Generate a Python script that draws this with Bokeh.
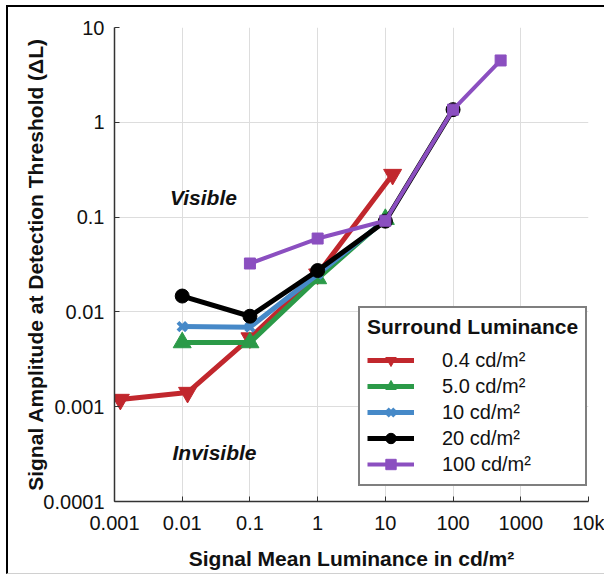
from bokeh.plotting import figure
from bokeh.models import FixedTicker, Label, Legend
from bokeh.embed import file_html
from bokeh.resources import INLINE

FONT = "Liberation Sans"

# Tick values and labels
x_ticks = [0.001, 0.01, 0.1, 1, 10, 100, 1000, 10000]
x_tick_labels = ["0.001", "0.01", "0.1", "1", "10", "100", "1000", "10k"]
y_ticks = [0.0001, 0.001, 0.01, 0.1, 1, 10]
y_tick_labels = ["0.0001", "0.001", "0.01", "0.1", "1", "10"]

# Series (signal mean luminance, threshold amplitude)
x_04 = [0.00122, 0.012, 0.1, 1, 12.8]
y_04 = [0.00119, 0.00141, 0.0053, 0.025, 0.281]

x_50 = [0.01, 0.1, 1, 10]
y_50 = [0.00475, 0.00475, 0.0225, 0.095]

x_10 = [0.01, 0.1, 1, 10]
y_10 = [0.0070, 0.0069, 0.025, 0.093]

x_20 = [0.01, 0.1, 1, 10, 100]
y_20 = [0.0147, 0.0090, 0.0273, 0.0906, 1.36]

x_100 = [0.1, 1, 10, 100, 504]
y_100 = [0.0324, 0.0594, 0.0916, 1.36, 4.49]

labels = ["0.4 cd/m²", "5.0 cd/m²", "10 cd/m²", "20 cd/m²", "100 cd/m²"]
colors = ["#c1272d", "#2b9a48", "#4689c8", "#000000", "#8b4fc0"]

p = figure(width=598, height=569, x_axis_type="log", y_axis_type="log",
           x_range=(0.001, 10000), y_range=(0.0001, 10),
           output_backend="svg", toolbar_location=None,
           min_border_left=106, min_border_right=18,
           min_border_top=20, min_border_bottom=75)
p.margin = (5, 0, 2, 6)
p.styles = {"border-left": "2px solid black", "border-top": "2px solid black",
            "border-bottom": "1px solid #d0d0d0"}
p.outline_line_color = None
p.background_fill_color = "white"
p.border_fill_color = "white"

p.xaxis.ticker = FixedTicker(ticks=x_ticks)
p.yaxis.ticker = FixedTicker(ticks=y_ticks)
p.xaxis.major_label_overrides = {t: l for t, l in zip(x_ticks, x_tick_labels)}
p.yaxis.major_label_overrides = {t: l for t, l in zip(y_ticks, y_tick_labels)}

for ax in (p.xaxis[0], p.yaxis[0]):
    ax.major_tick_in = 5
    ax.major_tick_out = 0
    ax.minor_tick_line_color = None
    ax.axis_line_color = "#333333"
    ax.axis_line_width = 1.5
    ax.major_tick_line_color = "#333333"
    ax.major_label_text_font = FONT
    ax.major_label_text_font_size = "20px"
    ax.major_label_text_color = "#111111"
    ax.axis_label_text_font = FONT
    ax.axis_label_text_font_size = "21px"
    ax.axis_label_text_font_style = "bold"
    ax.axis_label_text_color = "#111111"
    ax.major_label_standoff = 10

p.xaxis.axis_label = "Signal Mean Luminance in cd/m²"
p.yaxis.axis_label = "Signal Amplitude at Detection Threshold (ΔL)"
p.xaxis.axis_label_standoff = 10
p.yaxis.axis_label_standoff = -7

p.grid.grid_line_color = "#dddddd"
p.grid.grid_line_width = 1

series = [
    (x_04, y_04, "inverted_triangle", 18),
    (x_50, y_50, "triangle", 18),
    (x_10, y_10, "x", 12),
    (x_20, y_20, "circle", 14),
    (x_100, y_100, "square", 11),
]

items = []
for (xs, ys, marker, size), lab, col in zip(series, labels, colors):
    lw = 4 if marker == "square" else 5
    r1 = p.line(xs, ys, line_color=col, line_width=lw)
    if marker == "x":
        r2 = p.scatter(xs, ys, marker=marker, size=size, line_color=col, line_width=4)
    else:
        r2 = p.scatter(xs, ys, marker=marker, size=size, fill_color=col, line_color=col)
    items.append((lab, [r1, r2]))

legend = Legend(items=items, location=(244, 15))
legend.title = "Surround Luminance"
legend.title_text_font = FONT
legend.title_text_font_size = "21px"
legend.title_text_font_style = "bold"
legend.title_text_color = "#111111"
legend.title_standoff = 8
legend.label_text_font = FONT
legend.label_text_font_size = "20px"
legend.label_text_color = "#111111"
legend.glyph_width = 47
legend.glyph_height = 26
legend.label_height = 26
legend.label_standoff = 28
legend.padding = 7
legend.spacing = 0
legend.border_line_color = "black"
legend.border_line_width = 2
legend.background_fill_alpha = 1
p.add_layout(legend)

p.add_layout(Label(x=0.0206, y=0.161, text="Visible", text_align="center",
                   text_baseline="middle", text_font=FONT, text_font_size="21px",
                   text_font_style="bold italic", text_color="#111111"))
p.add_layout(Label(x=0.030, y=0.00033, text="Invisible", text_align="center",
                   text_baseline="middle", text_font=FONT, text_font_size="21px",
                   text_font_style="bold italic", text_color="#111111"))

open("out.html", "w").write(file_html(p, INLINE))
